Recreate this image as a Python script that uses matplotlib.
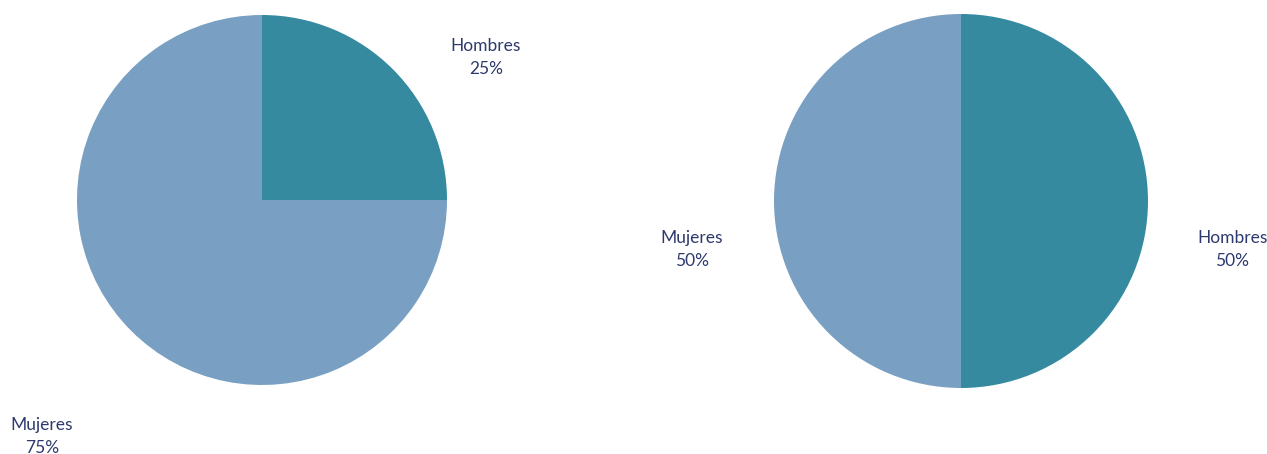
import matplotlib.pyplot as plt

plt.rcParams['font.family'] = ['Lato', 'DejaVu Sans']

# data
labels_left = ['Hombres', 'Mujeres']
values_left = [25, 75]
labels_right = ['Hombres', 'Mujeres']
values_right = [50, 50]

colors = ['#358aa0', '#79a0c2']
text_color = '#2e3a6e'

W, H = 1267, 454
fig = plt.figure(figsize=(W / 100, H / 100), dpi=100)


def pie_axes(cx, cy, r):
    # place an axes so that a radius-1 pie has centre (cx, cy) and radius r in pixels
    return fig.add_axes([(cx - r) / W, (H - cy - r) / H, 2 * r / W, 2 * r / H])


def draw_pie(ax, values, labels, label_pos):
    ax.pie(values, colors=colors, startangle=90, counterclock=False,
           radius=1, wedgeprops=dict(linewidth=0))
    ax.set_xlim(-1, 1)
    ax.set_ylim(-1, 1)
    ax.set_aspect('equal')
    ax.axis('off')
    total = sum(values)
    for lab, val, (x, y) in zip(labels, values, label_pos):
        ax.text(x, y, f"{lab}\n{val / total * 100:.0f}%", ha='center', va='center',
                fontsize=12.5, color=text_color, linespacing=1.55, clip_on=False)


ax1 = pie_axes(262, 200, 185)
draw_pie(ax1, values_left, labels_left, [(1.21, 0.77), (-1.19, -1.28)])

ax2 = pie_axes(961, 201, 187)
draw_pie(ax2, values_right, labels_right, [(1.45, -0.26), (-1.44, -0.26)])

fig.savefig('out.png', dpi=100)
